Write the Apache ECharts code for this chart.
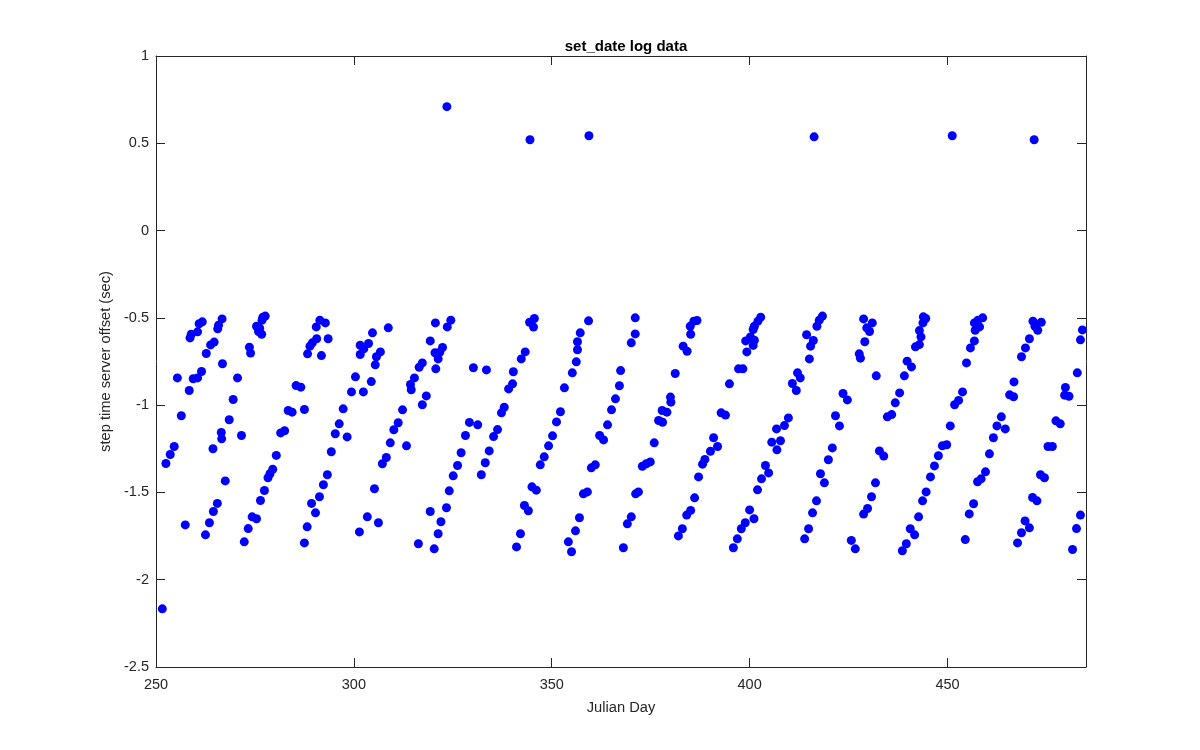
<!DOCTYPE html>
<html>
<head>
<meta charset="utf-8">
<script src="https://cdn.jsdelivr.net/npm/echarts@6/dist/echarts.min.js"></script>
<style>html,body{margin:0;padding:0;background:#fff;}#c{width:1200px;height:750px;}</style>
</head>
<body>
<div id="c"></div>
<script>
// Julian day of each set_date log entry
const julianDay = [
251.6,252.5,253.6,254.6,255.4,256.4,257.4,258.4,258.6,258.9,260.5,260.9,261.7,259.4,260.5,261.5,
262.5,263.5,264.5,265.5,262.7,263.8,264.7,264.4,265.6,265.8,266.7,266.5,266.6,266.8,267.5,268.5,
269.5,270.6,271.6,272.3,273.3,274.3,275.4,273.6,273.9,275.4,276.2,275.9,276.7,276.8,277.0,277.6,
276.4,277.4,278.3,278.8,279.5,280.4,281.5,282.5,283.4,284.4,285.4,286.6,287.5,287.5,288.2,288.3,
291.4,292.8,290.5,290.6,289.5,288.9,293.5,291.8,308.7,304.7,303.7,301.6,302.5,301.6,306.7,305.7,
305.4,300.4,299.4,302.4,304.4,320.6,324.5,323.6,319.3,320.5,321.7,322.4,321.3,320.7,317.3,316.5,
315.3,314.3,314.5,318.3,317.3,297.3,296.3,295.3,298.3,294.3,312.3,311.2,310.1,309.2,313.3,308.2,
307.2,293.3,292.3,291.3,289.3,290.3,305.2,303.4,306.2,301.4,327.1,326.2,325.1,324.1,323.4,322.0,
321.3,320.3,319.3,316.3,
345.6,344.4,345.4,343.3,342.3,340.3,340.1,339.1,330.2,333.5,338.0,337.3,336.3,335.3,334.2,333.2,
332.2,329.2,331.3,328.2,359.3,357.2,356.5,356.5,356.2,355.2,353.2,352.2,351.2,350.2,349.2,348.1,
347.1,345.0,346.1,343.1,344.1,342.1,341.1,366.1,365.1,364.1,362.1,363.1,360.0,361.0,358.0,359.0,
357.0,356.0,354.2,355.0,
371.1,371.1,370.1,367.4,367.1,386.7,385.9,385.0,385.1,383.2,384.2,381.2,380.0,380.1,377.9,379.1,
377.0,378.0,375.9,374.9,373.9,372.9,371.9,371.2,370.1,369.1,368.1,390.9,391.9,390.1,388.7,388.1,
387.1,386.1,385.1,384.1,383.0,382.0,402.8,402.1,401.2,400.9,400.2,399.0,401.2,400.9,399.3,397.2,
398.3,394.9,392.8,393.9,405.6,404.0,404.8,403.0,402.0,400.0,401.1,398.9,397.9,396.9,395.9,
418.4,417.6,417.0,414.4,416.1,415.4,415.1,412.1,412.8,410.8,411.8,409.8,408.8,406.8,407.8,406.9,
423.6,424.7,421.7,422.7,420.9,419.9,417.9,418.9,416.9,415.9,414.9,413.9,428.8,431.0,429.6,430.3,
429.1,427.7,428.0,432.0,425.7,426.7,443.9,444.5,443.8,442.9,443.3,442.9,441.9,439.8,440.9,439.1,
437.9,436.8,435.9,434.8,432.8,433.9,431.8,430.8,429.8,428.8,444.6,443.7,442.7,440.6,441.7,439.6,
438.6,
458.9,457.7,456.8,458.1,457.0,456.8,455.8,454.8,453.8,452.8,451.8,450.7,449.8,448.7,447.7,446.7,
445.7,471.6,473.7,472.1,472.8,470.7,469.7,468.7,466.8,465.7,466.7,463.6,462.5,464.6,461.6,460.6,
459.6,458.5,457.6,456.6,455.5,454.5,484.1,483.6,482.8,479.8,479.6,480.7,477.4,478.5,475.4,476.5,
473.5,474.5,471.5,472.6,469.6,470.7,468.7,467.7,483.6,482.6,481.6,
323.5,344.5,359.4,416.3,451.2,471.9
];
// step time server offset (sec) for each entry
const offsetSec = [
-2.167,-1.334,-1.283,-1.237,-0.844,-1.061,-1.686,-0.916,-0.615,-0.594,-0.580,-0.534,-0.523,-0.849,-0.844,-0.807,
-1.743,-1.674,-1.609,-1.563,-0.704,-0.655,-0.639,-1.250,-0.563,-0.542,-0.506,-1.157,-1.193,-0.763,-1.434,-1.084,
-0.968,-0.844,-1.174,-1.783,-1.707,-1.640,-1.651,-0.668,-0.702,-0.548,-0.559,-0.578,-0.594,-0.513,-0.496,-0.490,
-1.546,-1.489,-1.416,-1.393,-1.367,-1.288,-1.159,-1.147,-1.031,-1.040,-0.888,-0.897,-1.025,-1.789,-1.697,-0.706,
-0.513,-0.529,-0.552,-0.620,-0.643,-0.662,-0.620,-0.716,-0.557,-0.586,-0.647,-0.657,-0.678,-0.710,-0.695,-0.723,
-0.769,-0.838,-0.924,-0.924,-0.865,-0.529,-0.513,-0.552,-0.632,-0.700,-0.697,-0.670,-0.735,-0.792,-0.758,-0.783,
-0.844,-0.882,-0.912,-0.947,-0.998,-1.021,-1.107,-1.164,-1.182,-1.267,-1.027,-1.101,-1.141,-1.216,-1.233,-1.300,
-1.336,-1.399,-1.456,-1.525,-1.563,-1.617,-1.479,-1.640,-1.674,-1.726,-1.273,-1.346,-1.405,-1.491,-1.588,-1.668,
-1.737,-1.823,-1.609,-1.794,
-0.504,-0.525,-0.553,-0.695,-0.735,-0.809,-0.878,-0.907,-0.786,-0.798,-1.012,-1.044,-1.140,-1.180,-1.262,-1.330,
-1.399,-1.099,-1.113,-1.174,-0.517,-0.586,-0.637,-0.683,-0.752,-0.815,-0.901,-1.038,-1.096,-1.176,-1.233,-1.296,
-1.342,-1.468,-1.487,-1.575,-1.605,-1.737,-1.812,-0.964,-1.027,-1.113,-1.174,-1.199,-1.359,-1.342,-1.508,-1.497,
-1.645,-1.720,-1.783,-1.840,
-0.500,-0.592,-0.643,-0.802,-0.889,-0.515,-0.519,-0.548,-0.594,-0.662,-0.691,-0.819,-0.954,-0.983,-1.031,-1.040,
-1.088,-1.098,-1.216,-1.325,-1.336,-1.350,-1.497,-1.508,-1.640,-1.680,-1.817,-1.187,-1.237,-1.264,-1.311,-1.338,
-1.411,-1.531,-1.603,-1.630,-1.708,-1.749,-0.496,-0.519,-0.548,-0.567,-0.609,-0.632,-0.628,-0.658,-0.695,-0.792,
-0.792,-0.878,-1.044,-1.057,-1.212,-1.346,-1.388,-1.422,-1.485,-1.600,-1.651,-1.674,-1.708,-1.766,-1.817,
-0.490,-0.513,-0.548,-0.597,-0.630,-0.662,-0.735,-0.815,-0.844,-0.876,-0.916,-1.073,-1.117,-1.136,-1.204,-1.256,
-0.933,-0.970,-1.061,-1.119,-1.245,-1.313,-1.393,-1.445,-1.548,-1.617,-1.708,-1.766,-0.506,-0.529,-0.557,-0.578,
-0.637,-0.706,-0.731,-0.832,-1.775,-1.823,-0.494,-0.504,-0.529,-0.573,-0.609,-0.653,-0.666,-0.748,-0.781,-0.832,
-0.930,-0.987,-1.054,-1.067,-1.262,-1.292,-1.445,-1.525,-1.592,-1.624,-1.497,-1.548,-1.640,-1.708,-1.743,-1.794,
-1.834,
-0.500,-0.513,-0.529,-0.552,-0.571,-0.632,-0.672,-0.758,-0.924,-0.973,-0.998,-1.119,-1.227,-1.233,-1.290,-1.348,
-1.411,-0.519,-0.525,-0.548,-0.571,-0.620,-0.672,-0.723,-0.867,-0.941,-0.952,-1.067,-1.119,-1.136,-1.187,-1.279,
-1.382,-1.422,-1.439,-1.565,-1.623,-1.770,-0.569,-0.626,-0.815,-0.899,-0.943,-0.949,-1.090,-1.107,-1.237,-1.237,
-1.399,-1.416,-1.529,-1.548,-1.663,-1.703,-1.731,-1.789,-1.630,-1.707,-1.827,
0.710,0.520,0.543,0.537,0.543,0.520
];
const xTicks = [250, 300, 350, 400, 450];
const yTicks = [1, 0.5, 0, -0.5, -1, -1.5, -2, -2.5];

const points = julianDay.map((d, i) => [d, offsetSec[i]]);
const axisColor = '#262626';
const font = 'Liberation Sans, Arial, Helvetica, sans-serif';

const chart = echarts.init(document.getElementById('c'), null, {renderer: 'canvas'});
const baseAxis = {
  type: 'value',
  axisLine: {show: true, onZero: false, lineStyle: {color: axisColor, width: 1}},
  axisTick: {show: true, inside: true, length: 9, lineStyle: {color: axisColor, width: 1}},
  splitLine: {show: false}
};
chart.setOption({
  animation: false,
  backgroundColor: '#ffffff',
  title: {
    text: 'set_date log data', left: 621, top: 34, textAlign: 'center',
    textStyle: {fontFamily: font, fontSize: 15, fontWeight: 'bold', color: '#000'}
  },
  grid: {left: 156, top: 56, width: 930, height: 611, containLabel: false},
  xAxis: [
    Object.assign({}, baseAxis, {
      position: 'bottom', min: 250, max: 485, interval: 50,
      axisLabel: {color: axisColor, fontFamily: font, fontSize: 14.5, margin: 10,
        formatter: v => xTicks.includes(v) ? String(v) : ''},
      name: 'Julian Day', nameLocation: 'middle', nameGap: 33,
      nameTextStyle: {color: axisColor, fontFamily: font, fontSize: 14.7}
    }),
    Object.assign({}, baseAxis, {
      position: 'top', min: 250, max: 485, interval: 50,
      axisLabel: {show: false}
    })
  ],
  yAxis: [
    Object.assign({}, baseAxis, {
      position: 'left', min: -2.5, max: 1, interval: 0.5,
      axisLabel: {color: axisColor, fontFamily: font, fontSize: 14.5, margin: 7,
        formatter: v => yTicks.includes(v) ? String(v) : ''},
      name: 'step time server offset (sec)', nameLocation: 'middle', nameGap: 37,
      nameTextStyle: {color: axisColor, fontFamily: font, fontSize: 14.7}
    }),
    Object.assign({}, baseAxis, {
      position: 'right', min: -2.5, max: 1, interval: 0.5,
      axisLabel: {show: false}
    })
  ],
  series: [{
    type: 'scatter',
    xAxisIndex: 0, yAxisIndex: 0,
    data: points,
    symbol: 'circle',
    symbolSize: 9,
    itemStyle: {color: '#0000ff', opacity: 1},
    emphasis: {disabled: true}
  }]
});
</script>
</body>
</html>
